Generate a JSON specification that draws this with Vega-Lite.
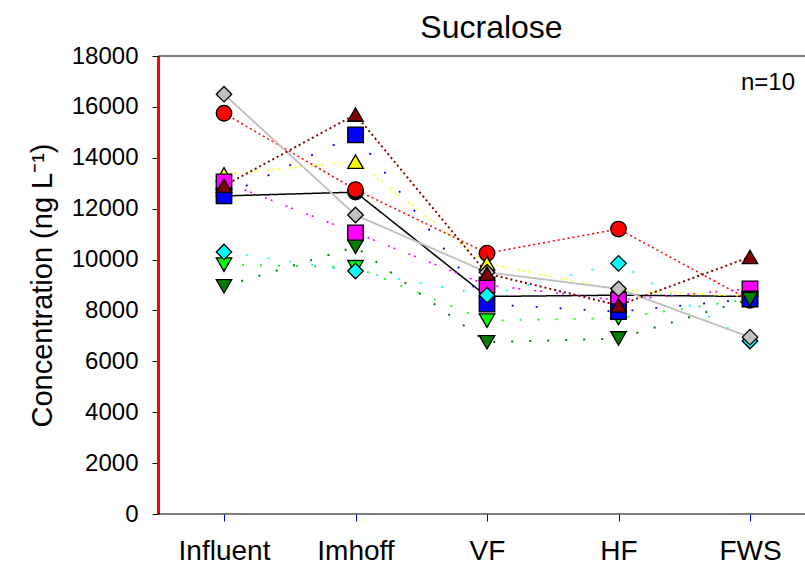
{
  "$schema": "https://vega.github.io/schema/vega-lite/v6.json",
  "width": 647,
  "height": 458,
  "autosize": "none",
  "padding": {"left": 158, "top": 56, "right": 0, "bottom": 54},
  "background": "white",
  "config": {
    "view": {"stroke": null},
    "font": "Liberation Sans",
    "axisY": {"grid": false, "domainColor": "red", "domainWidth": 3, "tickColor": "black", "tickSize": 6, "labelFontSize": 24, "labelColor": "black", "labelPadding": 14, "format": "d", "titleFontSize": 29, "titleFontWeight": "normal", "titleColor": "black", "titlePadding": 14, "values": [0, 2000, 4000, 6000, 8000, 10000, 12000, 14000, 16000, 18000]},
    "axisX": {"grid": false, "domain": false, "tickColor": "blue", "tickSize": 7, "labelFontSize": 28, "labelColor": "black", "labelPadding": 16, "labelAngle": 0}
  },
  "title": {"text": "Sucralose", "fontSize": 32, "fontWeight": "normal", "font": "Liberation Sans", "color": "black", "anchor": "middle", "offset": -1, "dx": 10},
  "data": {"values": [
    {"series": "Sample 1", "site": "Influent", "conc": 12500},
    {"series": "Sample 1", "site": "Imhoff", "conc": 12650},
    {"series": "Sample 1", "site": "VF", "conc": 8550},
    {"series": "Sample 1", "site": "HF", "conc": 8600},
    {"series": "Sample 1", "site": "FWS", "conc": 8550},
    {"series": "Sample 2", "site": "Influent", "conc": 15750},
    {"series": "Sample 2", "site": "Imhoff", "conc": 12750},
    {"series": "Sample 2", "site": "VF", "conc": 10250},
    {"series": "Sample 2", "site": "HF", "conc": 11200},
    {"series": "Sample 2", "site": "FWS", "conc": 8400},
    {"series": "Sample 3", "site": "Influent", "conc": 13350},
    {"series": "Sample 3", "site": "Imhoff", "conc": 13850},
    {"series": "Sample 3", "site": "VF", "conc": 9850},
    {"series": "Sample 3", "site": "HF", "conc": 8800},
    {"series": "Sample 3", "site": "FWS", "conc": 8550},
    {"series": "Sample 4", "site": "Influent", "conc": 13050},
    {"series": "Sample 4", "site": "Imhoff", "conc": 11050},
    {"series": "Sample 4", "site": "VF", "conc": 9000},
    {"series": "Sample 4", "site": "HF", "conc": 8400},
    {"series": "Sample 4", "site": "FWS", "conc": 8850},
    {"series": "Sample 5", "site": "Influent", "conc": 9800},
    {"series": "Sample 5", "site": "Imhoff", "conc": 9700},
    {"series": "Sample 5", "site": "VF", "conc": 7600},
    {"series": "Sample 5", "site": "HF", "conc": 7700},
    {"series": "Sample 5", "site": "FWS", "conc": 8450},
    {"series": "Sample 6", "site": "Influent", "conc": 12500},
    {"series": "Sample 6", "site": "Imhoff", "conc": 14900},
    {"series": "Sample 6", "site": "VF", "conc": 8250},
    {"series": "Sample 6", "site": "HF", "conc": 7950},
    {"series": "Sample 6", "site": "FWS", "conc": 8450},
    {"series": "Sample 7", "site": "Influent", "conc": 10300},
    {"series": "Sample 7", "site": "Imhoff", "conc": 9550},
    {"series": "Sample 7", "site": "VF", "conc": 8600},
    {"series": "Sample 7", "site": "HF", "conc": 9850},
    {"series": "Sample 7", "site": "FWS", "conc": 6800},
    {"series": "Sample 8", "site": "Influent", "conc": 16500},
    {"series": "Sample 8", "site": "Imhoff", "conc": 11750},
    {"series": "Sample 8", "site": "VF", "conc": 9500},
    {"series": "Sample 8", "site": "HF", "conc": 8850},
    {"series": "Sample 8", "site": "FWS", "conc": 6950},
    {"series": "Sample 9", "site": "Influent", "conc": 12900},
    {"series": "Sample 9", "site": "Imhoff", "conc": 15700},
    {"series": "Sample 9", "site": "VF", "conc": 9450},
    {"series": "Sample 9", "site": "HF", "conc": 8200},
    {"series": "Sample 9", "site": "FWS", "conc": 10100},
    {"series": "Sample 10", "site": "Influent", "conc": 8950},
    {"series": "Sample 10", "site": "Imhoff", "conc": 10500},
    {"series": "Sample 10", "site": "VF", "conc": 6750},
    {"series": "Sample 10", "site": "HF", "conc": 6900},
    {"series": "Sample 10", "site": "FWS", "conc": 8450}
  ]},
  "layer": [
    {
      "data": {"values": [{"site": "Influent", "conc": 18000}, {"site": "Influent", "conc": 0}]},
      "mark": {"type": "rule", "color": "black", "strokeWidth": 1},
      "encoding": {"y": {"field": "conc", "type": "quantitative", "scale": {"domain": [0, 18000]}, "title": "Concentration (ng L⁻¹)", "axis": {"orient": "left"}}}
    },
    {
      "mark": {"type": "line", "strokeCap": "butt"},
      "encoding": {
        "x": {"field": "site", "type": "ordinal", "title": null, "axis": {"orient": "bottom"}, "scale": {"type": "point", "domain": ["Influent", "Imhoff", "VF", "HF", "FWS"], "range": [66, 592], "padding": 0}, "sort": null},
        "y": {"field": "conc", "type": "quantitative", "scale": {"domain": [0, 18000]}, "title": "Concentration (ng L⁻¹)", "axis": {"orient": "left"}},
        "color": {"field": "series", "type": "nominal", "legend": null, "scale": {"domain": ["Sample 1", "Sample 2", "Sample 3", "Sample 4", "Sample 5", "Sample 6", "Sample 7", "Sample 8", "Sample 9", "Sample 10"], "range": ["#000000", "#ff0000", "#ffff00", "#ff00ff", "#00ff00", "#0000ff", "#00ffff", "#c0c0c0", "#800000", "#007f00"]}},
        "strokeDash": {"field": "series", "type": "nominal", "legend": null, "scale": {"domain": ["Sample 1", "Sample 2", "Sample 3", "Sample 4", "Sample 5", "Sample 6", "Sample 7", "Sample 8", "Sample 9", "Sample 10"], "range": [[1, 0], [2, 3], [2, 3, 2, 3, 2, 10], [2, 4, 2, 14], [2, 16], [2, 22], [2, 20], [1, 0], [2, 3], [2, 16]]}},
        "strokeWidth": {"field": "series", "type": "nominal", "legend": null, "scale": {"domain": ["Sample 1", "Sample 2", "Sample 3", "Sample 4", "Sample 5", "Sample 6", "Sample 7", "Sample 8", "Sample 9", "Sample 10"], "range": [1.5, 2, 2, 2, 2, 2, 2, 1.5, 2, 2]}}
      }
    },
    {
      "mark": {"type": "point", "filled": true, "stroke": "black", "strokeWidth": 1.3, "opacity": 1},
      "encoding": {
        "x": {"field": "site", "type": "ordinal", "title": null, "axis": {"orient": "bottom"}, "scale": {"type": "point", "domain": ["Influent", "Imhoff", "VF", "HF", "FWS"], "range": [66, 592], "padding": 0}, "sort": null},
        "y": {"field": "conc", "type": "quantitative", "scale": {"domain": [0, 18000]}, "title": "Concentration (ng L⁻¹)", "axis": {"orient": "left"}},
        "fill": {"field": "series", "type": "nominal", "legend": null, "scale": {"domain": ["Sample 1", "Sample 2", "Sample 3", "Sample 4", "Sample 5", "Sample 6", "Sample 7", "Sample 8", "Sample 9", "Sample 10"], "range": ["#000000", "#ff0000", "#ffff00", "#ff00ff", "#00ff00", "#0000ff", "#00ffff", "#c0c0c0", "#800000", "#007f00"]}},
        "shape": {"field": "series", "type": "nominal", "legend": null, "scale": {"domain": ["Sample 1", "Sample 2", "Sample 3", "Sample 4", "Sample 5", "Sample 6", "Sample 7", "Sample 8", "Sample 9", "Sample 10"], "range": ["circle", "circle", "triangle-up", "square", "triangle-down", "square", "diamond", "diamond", "triangle-up", "triangle-down"]}},
        "size": {"field": "series", "type": "nominal", "legend": null, "scale": {"domain": ["Sample 1", "Sample 2", "Sample 3", "Sample 4", "Sample 5", "Sample 6", "Sample 7", "Sample 8", "Sample 9", "Sample 10"], "range": [240, 240, 310, 225, 300, 225, 400, 400, 310, 300]}}
      }
    },
    {
      "data": {"values": [{"site": "FWS", "label": "n=10", "conc": 16650}]},
      "mark": {"type": "text", "fontSize": 24, "font": "Liberation Sans", "color": "black", "align": "right", "baseline": "alphabetic", "dx": 45},
      "encoding": {
        "x": {"field": "site", "type": "ordinal", "title": null, "axis": {"orient": "bottom"}, "scale": {"type": "point", "domain": ["Influent", "Imhoff", "VF", "HF", "FWS"], "range": [66, 592], "padding": 0}, "sort": null},
        "y": {"field": "conc", "type": "quantitative", "scale": {"domain": [0, 18000]}, "title": "Concentration (ng L⁻¹)", "axis": {"orient": "left"}},
        "text": {"field": "label"}
      }
    }
  ]
}
